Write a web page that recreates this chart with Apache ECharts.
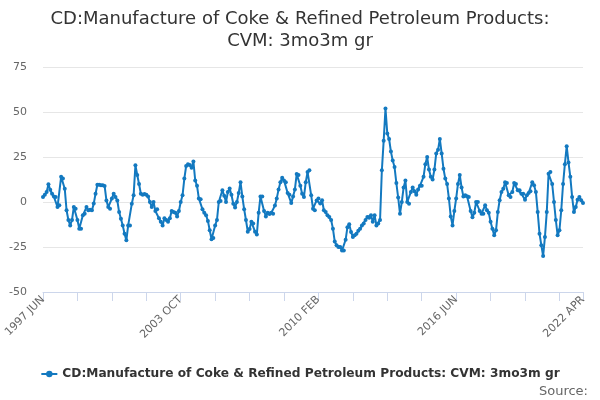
<!DOCTYPE html>
<html>
<head>
<meta charset="utf-8">
<script src="https://cdn.jsdelivr.net/npm/echarts@6/dist/echarts.min.js"></script>
<style>
  html, body { margin: 0; padding: 0; background: #fff; }
  #chart { width: 600px; height: 400px; }
</style>
</head>
<body>
<div id="chart"></div>
<script>
// monthly, 1997 JUN .. 2022 APR
const startYear = 1997
const startMonth = 5 // JUN (0-based)
const monthNames = ['JAN', 'FEB', 'MAR', 'APR', 'MAY', 'JUN', 'JUL', 'AUG', 'SEP', 'OCT', 'NOV', 'DEC']

const values1997 = [2.8, 4, 5.5, 9.8, 6.8, 4.6, 3, 2.8, -2.8, -1.8, 14, 13, 7.4, -4.6, -10, -13, -10, -2.8, -3.7, -10,
  -14.8, -14.8, -7.4, -6.5, -2.8, -4.6, -4.3, -4.6, -0.9, 4.6, 9.6, 9.6, 9.3, 9.3, 8.9, 0.9, -2.8, -3.7, 1.9, 4.6,
  2.8, 0.9, -5.6, -9.3, -13, -17.6, -21.3, -13, -13, -1]
const values2001 = [3.7, 20.4, 15, 10, 4.6, 4, 4.5, 4, 3, 0, -2.8, 0, -5, -4, -9, -11, -13, -9, -10, -11,
  -9, -5, -5.5, -6, -8, -5, 0, 3.7, 13, 20, 21, 20.5, 19, 22.5, 12, 9, 2, 1.5, -4, -6,
  -7.4, -10.5, -15.7, -20.7, -20, -13, -10, 0, 0.5, 6.5]
const values2005 = [3.5, 0, 5.5, 7.5, 4, -1, -3, 0, 5, 11, 3, -4, -10, -16.5, -15, -11, -12, -16.5, -18, -6,
  3, 3, -5, -8, -6, -6.7, -6, -6.5, -2, 2, 7, 11, 13.5, 12, 11, 5, 4, -0.5, 3, 7,
  15.5, 15, 9, 4.6, 2.8, 11, 16.7, 17.6, 3.7, -3.7]
const values2009 = [-4.6, 0.9, 1.9, -0.9, 1, -4.6, -5.6, -7.4, -8.3, -10, -14.8, -22, -24, -25, -25, -27, -27, -21, -14, -12.4,
  -16.7, -19.4, -18.5, -17.6, -16, -14.8, -13, -12, -10, -8.3, -8.7, -7.4, -11, -7.4, -13, -12, -10, 17.6, 34, 52,
  38, 35, 28, 23, 19.4, 10.5, 2.5, -6.5, 0, 8]
const values2013 = [12, 0, -1, 5.5, 8, 6, 4, 7, 9, 9, 14, 21, 25, 18, 14, 12.5, 18, 27, 29, 35,
  27, 18.5, 13, 10, 2, -8, -13, -5, 2, 10, 15, 8, 3, 3.7, 3.2, 2.8, -5, -8.5, -6, 0,
  0, -5, -6.5, -6.5, -1.8, -4.6, -6, -11, -14.8, -18.5]
const values2017 = [-15.7, -5.6, 1, 5.6, 7.4, 11, 10.5, 3.7, 2.8, 5.6, 10.5, 10, 6.5, 6.5, 4.6, 4.6, 1.3, 3.7, 5, 6,
  11, 9.3, 5.6, -5.6, -17.6, -24, -30, -19.4, -5.6, 15.7, 16.7, 10, 0, -10, -18.5, -15.7, -4.6, 10, 21, 31,
  22, 14, 2.8, -5.6, -2.8, 1.3, 2.8, 1, -0.5]

const values = [].concat(values1997, values2001, values2005, values2009, values2013, values2017)

const categories = values.map((v, i) => {
  const m = startMonth + i
  return (startYear + Math.floor(m / 12)) + ' ' + monthNames[m % 12]
})
const last = categories.length - 1

const seriesName = 'CD:Manufacture of Coke & Refined Petroleum Products: CVM: 3mo3m gr'
const lineColor = '#1379c0'
const font = 'DejaVu Sans'

const chart = echarts.init(document.getElementById('chart'), null, {renderer: 'canvas'})

chart.setOption({
  animation: false,
  title: {
    text: 'CD:Manufacture of Coke & Refined Petroleum Products:\nCVM: 3mo3m gr',
    left: 'center',
    top: 3,
    textStyle: {fontFamily: font, fontSize: 18, fontWeight: 'normal', color: '#333', lineHeight: 22}
  },
  grid: {left: 43, right: 17, top: 67, bottom: 108},
  legend: {
    bottom: 15,
    left: 'center',
    itemWidth: 16,
    itemHeight: 8,
    itemGap: 6,
    textStyle: {fontFamily: font, fontSize: 12.2, fontWeight: 'bold', color: '#333'}
  },
  xAxis: {
    type: 'category',
    boundaryGap: false,
    data: categories,
    axisLine: {onZero: false, lineStyle: {color: '#ccd6eb'}},
    axisTick: {
      length: 9,
      lineStyle: {color: '#ccd6eb'},
      interval: (i) => i % 19 === 0 || i === last
    },
    axisLabel: {
      rotate: 45,
      margin: 6,
      color: '#666',
      fontFamily: font,
      fontSize: 11,
      interval: (i) => i % 76 === 0 || i === last
    }
  },
  yAxis: {
    type: 'value',
    min: -50,
    max: 75,
    interval: 25,
    axisLine: {show: false},
    axisTick: {show: false},
    axisLabel: {color: '#666', fontFamily: font, fontSize: 11, margin: 16},
    splitLine: {lineStyle: {color: '#e6e6e6'}}
  },
  graphic: [{
    type: 'text',
    right: 12,
    bottom: 2,
    style: {text: 'Source:', fontFamily: font, fontSize: 13, fill: '#666'}
  }],
  series: [{
    name: seriesName,
    type: 'line',
    data: values,
    color: lineColor,
    symbol: 'circle',
    symbolSize: 4,
    showAllSymbol: true,
    lineStyle: {width: 2}
  }]
})
</script>
</body>
</html>
